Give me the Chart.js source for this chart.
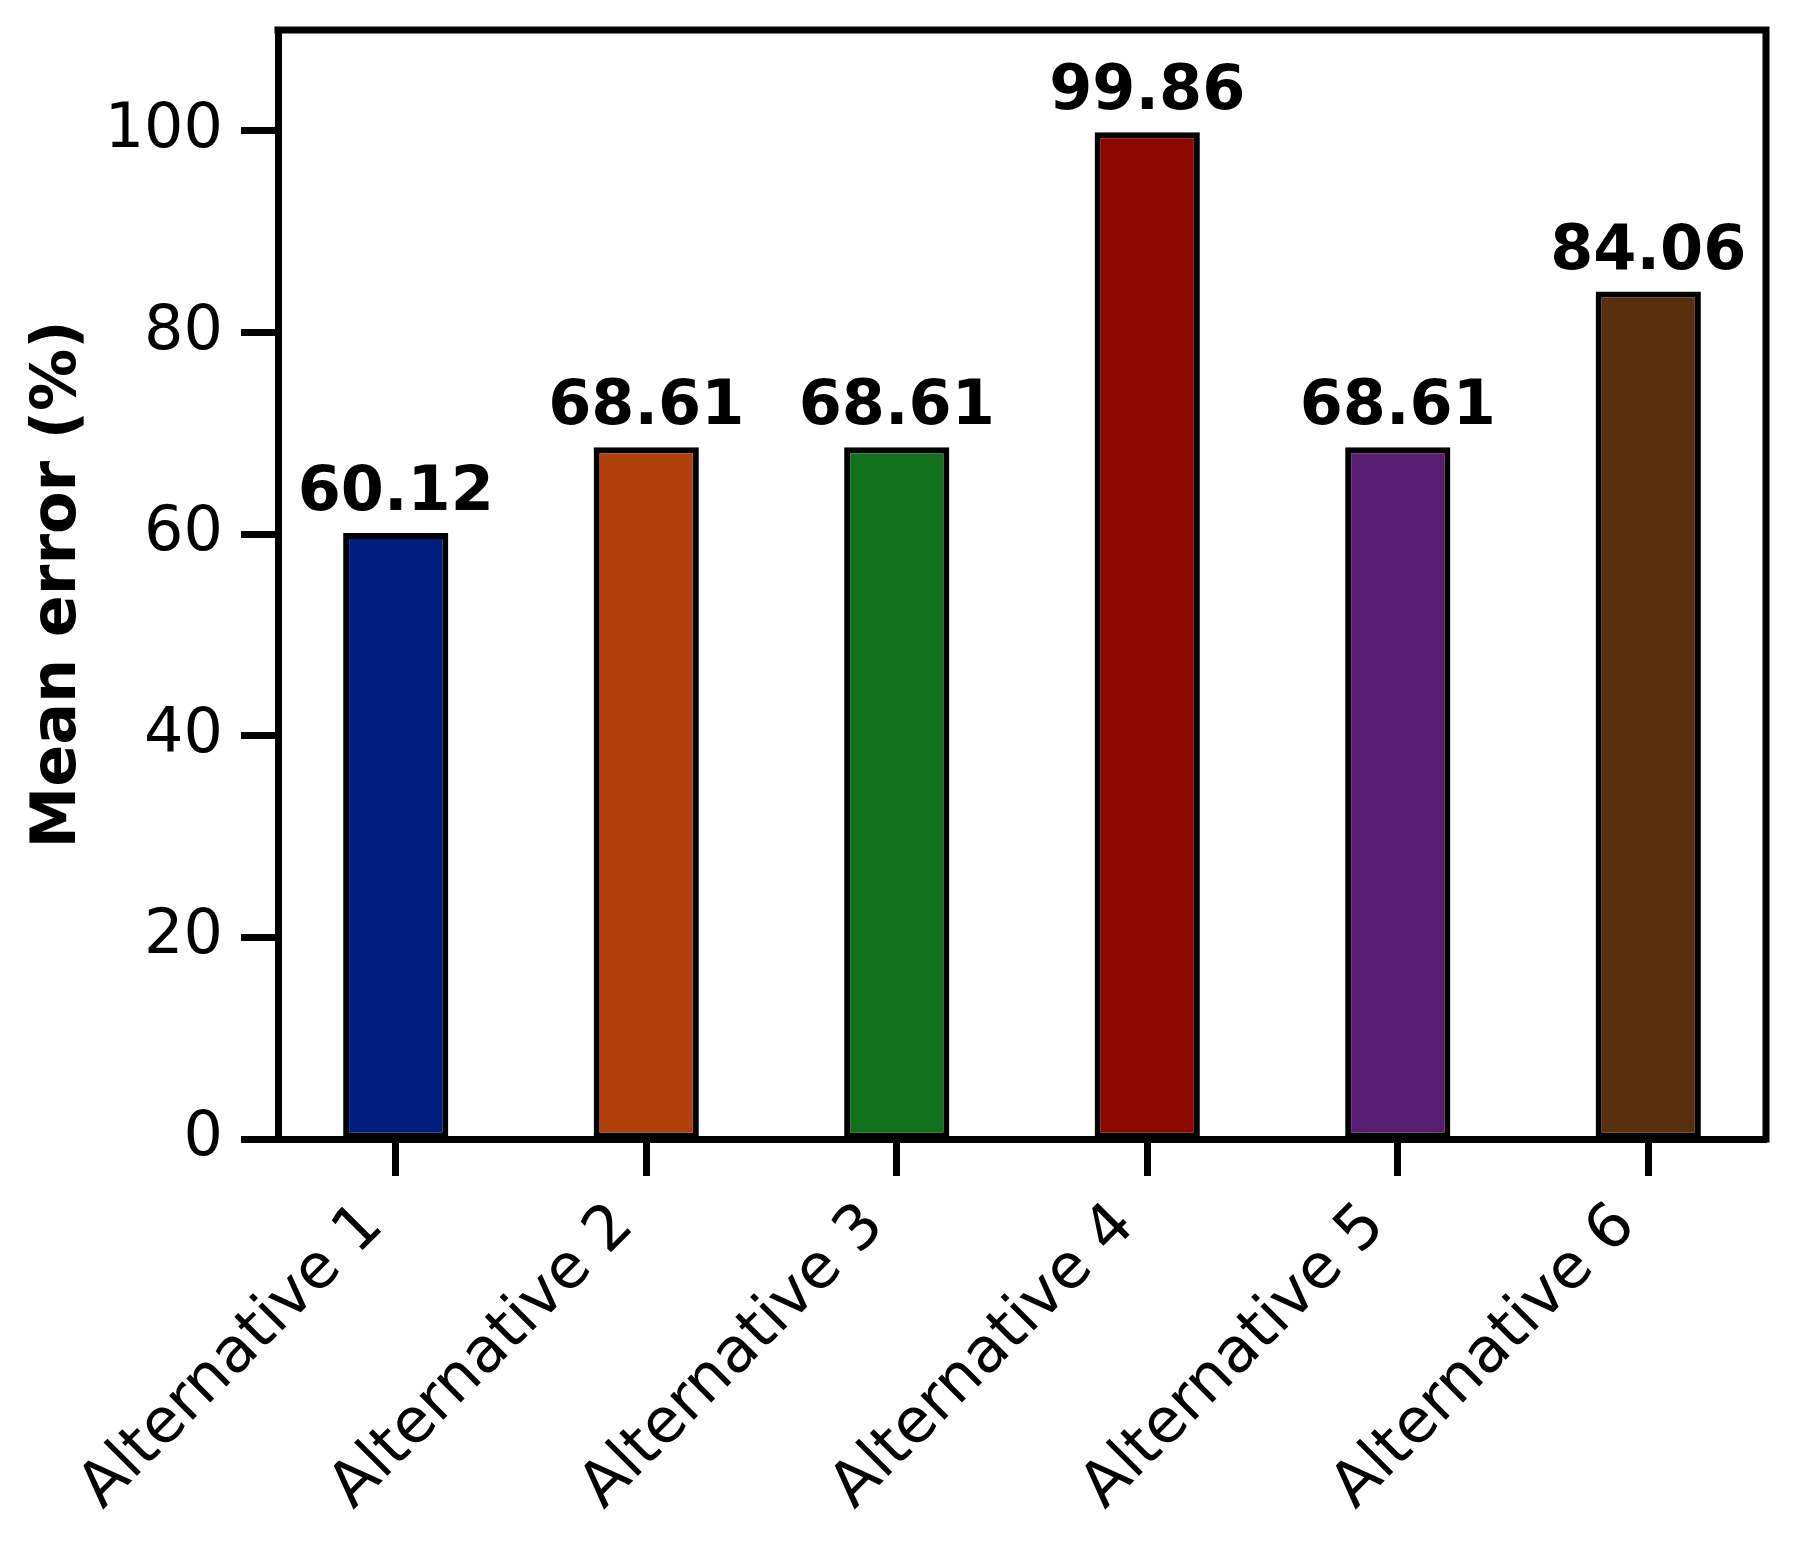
<!DOCTYPE html>
<html>
<head>
<meta charset="utf-8">
<script src="https://cdn.jsdelivr.net/npm/chart.js@4"></script>
<style>
  html, body { margin: 0; padding: 0; background: #fff; }
  #wrap { width: 1796px; height: 1548px; }
</style>
</head>
<body>
<div id="wrap"><canvas id="myChart" width="1796" height="1548"></canvas></div>
<script>
// chart data
const categories = ["Alternative 1", "Alternative 2", "Alternative 3", "Alternative 4", "Alternative 5", "Alternative 6"];
const meanError = [60.12, 68.61, 68.61, 99.86, 68.61, 84.06];
const barColors = ["#001c7f", "#b1400d", "#12711c", "#8c0800", "#591e71", "#592f0d"];
const yTicks = [0, 20, 40, 60, 80, 100];

const FONT = "'DejaVu Sans', 'Liberation Sans', sans-serif";

// top/right spines (matplotlib style box)
const boxPlugin = {
  id: 'box',
  afterDraw(chart) {
    const a = chart.chartArea;
    const c = chart.ctx;
    c.save();
    c.strokeStyle = '#000';
    c.lineWidth = 7;
    c.lineCap = 'square';
    c.beginPath();
    c.moveTo(a.left, a.top);
    c.lineTo(a.right, a.top);
    c.lineTo(a.right, a.bottom);
    c.stroke();
    c.restore();
  }
};

// value labels on top of the bars
const barLabels = {
  id: 'barLabels',
  afterDatasetsDraw(chart) {
    const c = chart.ctx;
    const meta = chart.getDatasetMeta(0);
    c.save();
    c.fillStyle = '#000';
    c.font = "bold 62px " + FONT;
    c.textAlign = 'center';
    c.textBaseline = 'alphabetic';
    meta.data.forEach((bar, i) => {
      c.fillText(meanError[i].toFixed(2), bar.x, bar.y - 23);
    });
    c.restore();
  }
};

const ctx = document.getElementById('myChart').getContext('2d');

const myChart = new Chart(ctx, {
  type: 'bar',
  data: {
    datasets: [{
      label: 'Mean error',
      data: meanError.map((v, i) => ({ x: i, y: v })),
      backgroundColor: barColors,
      borderColor: '#000',
      borderWidth: 6,
      borderSkipped: false,
      barPercentage: 0.42,
      categoryPercentage: 1.0
    }]
  },
  options: {
    responsive: false,
    animation: false,
    devicePixelRatio: 1,
    layout: { padding: { top: 30, right: 30, left: 0, bottom: 0 } },
    plugins: {
      legend: { display: false },
      tooltip: { enabled: false }
    },
    scales: {
      x: {
        type: 'linear',
        min: -0.47,
        max: 5.47,
        offset: false,
        afterBuildTicks: (scale) => {
          scale.ticks = categories.map((_, i) => ({ value: i }));
        },
        afterFit: (scale) => {
          scale.height = 1548 - 1139;
          scale.paddingLeft = 0;
          scale.paddingRight = 0;
        },
        ticks: {
          autoSkip: false,
          maxRotation: 45,
          minRotation: 45,
          padding: 14,
          labelOffset: -22,
          color: '#000',
          font: { family: FONT, size: 62 },
          callback: (value) => categories[value]
        },
        grid: {
          offset: false,
          drawOnChartArea: false,
          drawTicks: true,
          tickLength: 37,
          tickWidth: 7,
          tickColor: '#000'
        },
        border: { display: true, color: '#000', width: 7 }
      },
      y: {
        min: 0,
        max: 110,
        afterBuildTicks: (scale) => {
          scale.ticks = yTicks.map(v => ({ value: v }));
        },
        afterFit: (scale) => {
          scale.width = 278;
          scale.paddingTop = 0;
          scale.paddingBottom = 0;
        },
        ticks: {
          padding: 18,
          color: '#000',
          font: { family: FONT, size: 62 }
        },
        grid: {
          drawOnChartArea: false,
          drawTicks: true,
          tickLength: 37,
          tickWidth: 7,
          tickColor: '#000'
        },
        border: { display: true, color: '#000', width: 7 },
        title: {
          display: true,
          text: 'Mean error (%)',
          color: '#000',
          font: { family: FONT, size: 62, weight: 'bold' },
          padding: { top: 22, bottom: 0 }
        }
      }
    }
  },
  plugins: [boxPlugin, barLabels]
});
</script>
</body>
</html>
